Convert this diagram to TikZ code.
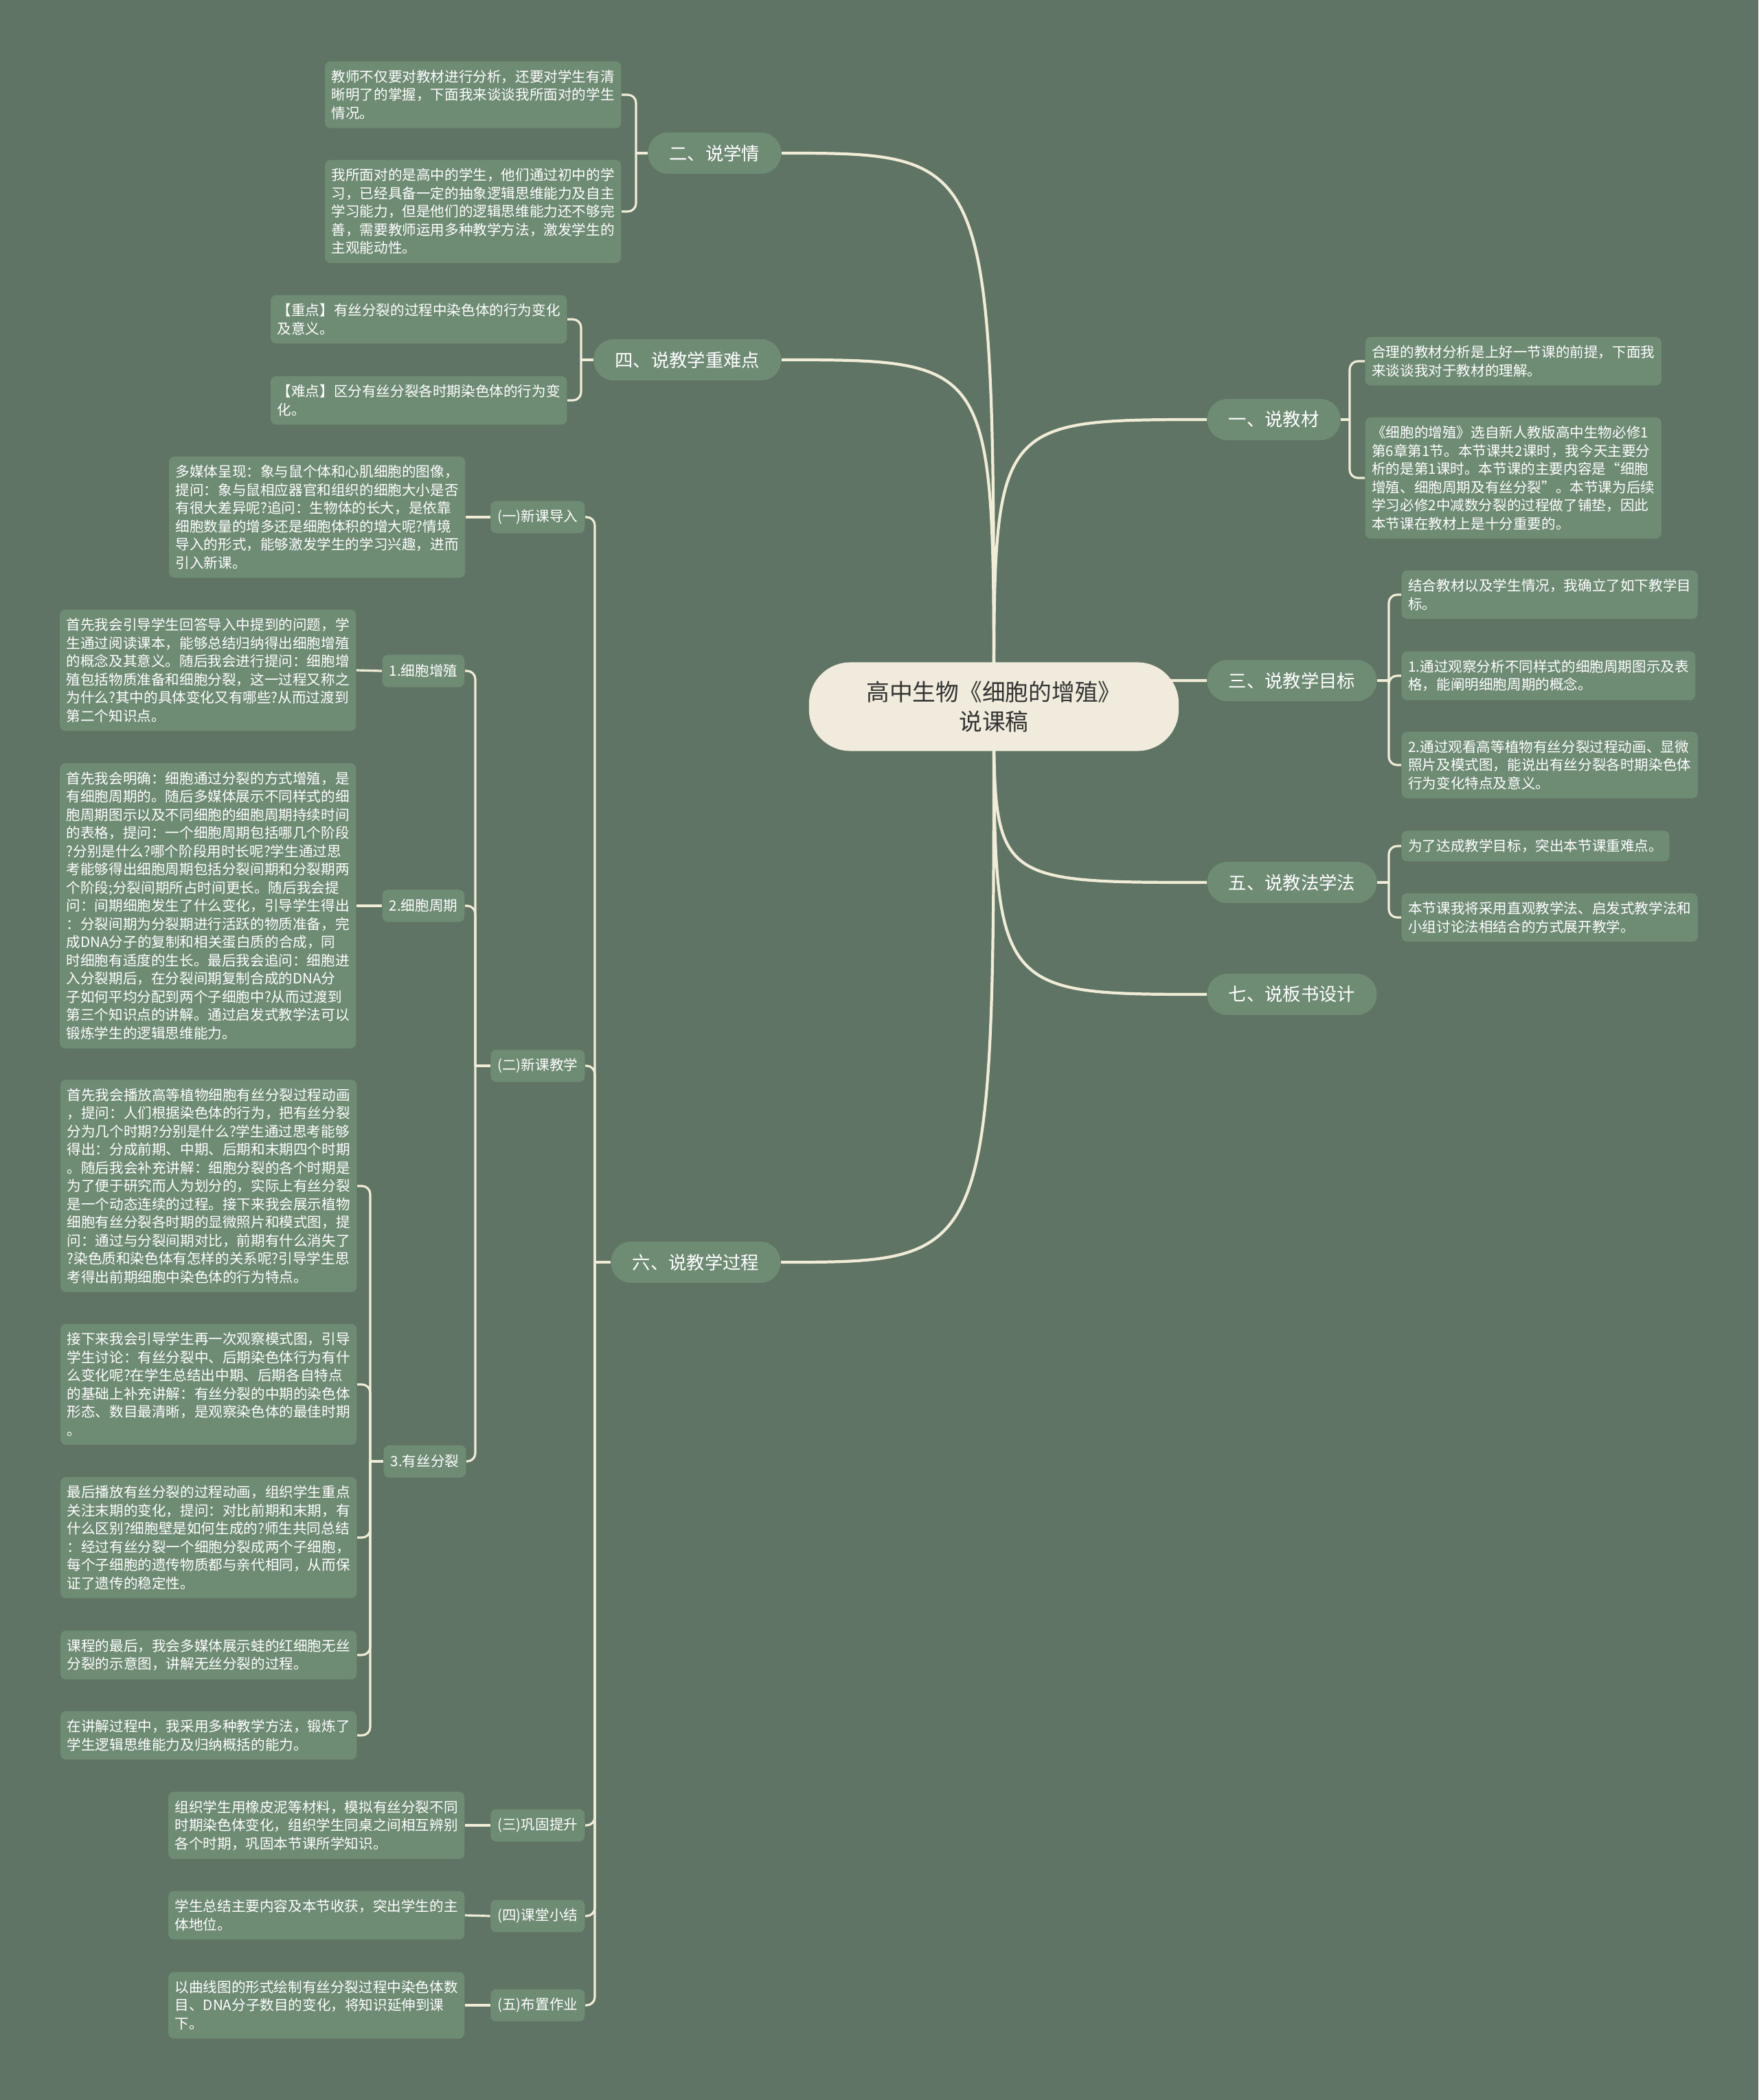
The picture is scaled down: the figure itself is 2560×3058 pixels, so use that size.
\documentclass[tikz,border=0pt]{standalone}
\usepackage{fontspec}
\setmainfont{Noto Sans CJK SC}
\definecolor{bgcol}{HTML}{5F7464}
\definecolor{boxcol}{HTML}{6E8B74}
\definecolor{linecol}{HTML}{F0ECD8}
\definecolor{rootcol}{HTML}{F0EBDC}
\tikzset{
  root/.style={fill=rootcol, text=black!80, rounded corners=0.6cm, minimum width=5.38cm,
    minimum height=1.29cm, align=center, font=\fontsize{9.6pt}{12.2pt}\selectfont},
  topic/.style={fill=boxcol, text=white, rounded corners=0.29cm, minimum height=0.6cm,
    inner xsep=0.31cm, font=\fontsize{7.5pt}{9pt}\selectfont},
  subtopic/.style={fill=boxcol, text=white, rounded corners=2.3pt, minimum height=0.47cm,
    inner xsep=0.1cm, font=\fontsize{5.86pt}{7.54pt}\selectfont},
  leaf/.style={fill=boxcol, text=white, rounded corners=2.3pt, align=left,
    inner xsep=0.095cm, inner ysep=0.125cm, font=\fontsize{5.86pt}{7.54pt}\selectfont},
  mainlink/.style={draw=linecol, line width=1.2pt},
  brace/.style={draw=linecol, line width=0.9pt, rounded corners=3.4pt}
}
\begin{document}
\begin{tikzpicture}[x=0.01cm,y=-0.01cm]
    %% Background
    \fill[bgcol] (0,0) rectangle (2560,3058);
    \coordinate (hub) at (1447,1029);

    %% Topics
    \node[topic,anchor=west] (jiaocai) at (1757,611) {一、说教材};
    \node[topic,anchor=east] (xueqing) at (1138,223) {二、说学情};
    \node[topic,anchor=west] (mubiao) at (1757,991) {三、说教学目标};
    \node[topic,anchor=east] (zhongnan) at (1138,524) {四、说教学重难点};
    \node[topic,anchor=west] (jiaofa) at (1757,1285) {五、说教法学法};
    \node[topic,anchor=east] (guocheng) at (1137,1838) {六、说教学过程};
    \node[topic,anchor=west] (banshu) at (1757,1448) {七、说板书设计};

    %% Main curves
    \foreach \t/\y in {jiaocai/611, mubiao/991, jiaofa/1285, banshu/1448}
        \draw[mainlink] (hub) .. controls (1447,\y) and (1447,\y) .. (\t.west);
    \foreach \t/\y in {xueqing/223, zhongnan/524, guocheng/1838}
        \draw[mainlink] (hub) .. controls (1447,\y) and (1447,\y) .. (\t.east);
    \node[root] (root) at (hub) {高中生物《细胞的增殖》\\说课稿};

    %% 一、说教材
    \node[leaf,anchor=west] (jc1) at (1987,526) {合理的教材分析是上好一节课的前提，下面我\\来谈谈我对于教材的理解。};
    \node[leaf,anchor=west] (jc2) at (1987,696) {《细胞的增殖》选自新人教版高中生物必修1\\第6章第1节。本节课共2课时，我今天主要分\\析的是第1课时。本节课的主要内容是“细胞\\增殖、细胞周期及有丝分裂”。本节课为后续\\学习必修2中减数分裂的过程做了铺垫，因此\\本节课在教材上是十分重要的。};
    \coordinate (jcj) at (1965,611);
    \draw[brace] (jiaocai.east) -- (jcj);
    \foreach \l in {jc1,jc2} \draw[brace] (jcj) |- (\l.west);

    %% 二、说学情
    \node[leaf,anchor=east] (xq1) at (905,138) {教师不仅要对教材进行分析，还要对学生有清\\晰明了的掌握，下面我来谈谈我所面对的学生\\情况。};
    \node[leaf,anchor=east] (xq2) at (905,308) {我所面对的是高中的学生，他们通过初中的学\\习，已经具备一定的抽象逻辑思维能力及自主\\学习能力，但是他们的逻辑思维能力还不够完\\善，需要教师运用多种教学方法，激发学生的\\主观能动性。};
    \coordinate (xqj) at (926,223);
    \draw[brace] (xueqing.west) -- (xqj);
    \foreach \l in {xq1,xq2} \draw[brace] (xqj) |- (\l.east);

    %% 三、说教学目标
    \node[leaf,anchor=west] (mb1) at (2040,866) {结合教材以及学生情况，我确立了如下教学目\\标。};
    \node[leaf,anchor=west] (mb2) at (2040,984) {1.通过观察分析不同样式的细胞周期图示及表\\格，能阐明细胞周期的概念。};
    \node[leaf,anchor=west] (mb3) at (2040,1114) {2.通过观看高等植物有丝分裂过程动画、显微\\照片及模式图，能说出有丝分裂各时期染色体\\行为变化特点及意义。};
    \coordinate (mbj) at (2022,991);
    \draw[brace] (mubiao.east) -- (mbj);
    \foreach \l in {mb1,mb2,mb3} \draw[brace] (mbj) |- (\l.west);

    %% 四、说教学重难点
    \node[leaf,anchor=east] (zn1) at (826,465) {【重点】有丝分裂的过程中染色体的行为变化\\及意义。};
    \node[leaf,anchor=east] (zn2) at (826,583) {【难点】区分有丝分裂各时期染色体的行为变\\化。};
    \coordinate (znj) at (846,524);
    \draw[brace] (zhongnan.west) -- (znj);
    \foreach \l in {zn1,zn2} \draw[brace] (znj) |- (\l.east);

    %% 五、说教法学法
    \node[leaf,anchor=west] (jf1) at (2040,1232) {为了达成教学目标，突出本节课重难点。};
    \node[leaf,anchor=west] (jf2) at (2040,1336) {本节课我将采用直观教学法、启发式教学法和\\小组讨论法相结合的方式展开教学。};
    \coordinate (jfj) at (2022,1285);
    \draw[brace] (jiaofa.east) -- (jfj);
    \foreach \l in {jf1,jf2} \draw[brace] (jfj) |- (\l.west);

    %% 六、说教学过程
    \node[subtopic,anchor=east] (daoru) at (852,753) {(一)新课导入};
    \node[subtopic,anchor=east] (xinke) at (852,1552) {(二)新课教学};
    \node[subtopic,anchor=east] (gonggu) at (852,2658) {(三)巩固提升};
    \node[subtopic,anchor=east] (xiaojie) at (852,2790) {(四)课堂小结};
    \node[subtopic,anchor=east] (zuoye) at (852,2920) {(五)布置作业};
    \coordinate (gcj) at (866,1838);
    \draw[brace] (guocheng.west) -- (gcj);
    \foreach \l in {daoru,xinke,gonggu,xiaojie,zuoye} \draw[brace] (gcj) |- (\l.east);

    \node[leaf,anchor=east] (daoru1) at (678,753) {多媒体呈现：象与鼠个体和心肌细胞的图像，\\提问：象与鼠相应器官和组织的细胞大小是否\\有很大差异呢?追问：生物体的长大，是依靠\\细胞数量的增多还是细胞体积的增大呢?情境\\导入的形式，能够激发学生的学习兴趣，进而\\引入新课。};
    \node[leaf,anchor=east] (gonggu1) at (677,2658) {组织学生用橡皮泥等材料，模拟有丝分裂不同\\时期染色体变化，组织学生同桌之间相互辨别\\各个时期，巩固本节课所学知识。};
    \node[leaf,anchor=east] (xiaojie1) at (677,2789) {学生总结主要内容及本节收获，突出学生的主\\体地位。};
    \node[leaf,anchor=east] (zuoye1) at (677,2920) {以曲线图的形式绘制有丝分裂过程中染色体数\\目、DNA分子数目的变化，将知识延伸到课\\下。};
    \foreach \s in {daoru,gonggu,xiaojie,zuoye} \draw[brace] (\s.west) -- (\s1.east);

    %% (二)新课教学
    \node[subtopic,anchor=east] (zengzhi) at (677,977) {1.细胞增殖};
    \node[subtopic,anchor=east] (zhouqi) at (677,1319) {2.细胞周期};
    \node[subtopic,anchor=east] (fenlie) at (679,2128) {3.有丝分裂};
    \coordinate (xkj) at (692,1552);
    \draw[brace] (xinke.west) -- (xkj);
    \foreach \l in {zengzhi,zhouqi,fenlie} \draw[brace] (xkj) |- (\l.east);

    \node[leaf,anchor=east] (zengzhi1) at (519,976) {首先我会引导学生回答导入中提到的问题，学\\生通过阅读课本，能够总结归纳得出细胞增殖\\的概念及其意义。随后我会进行提问：细胞增\\殖包括物质准备和细胞分裂，这一过程又称之\\为什么?其中的具体变化又有哪些?从而过渡到\\第二个知识点。};
    \node[leaf,anchor=east] (zhouqi1) at (519,1319) {首先我会明确：细胞通过分裂的方式增殖，是\\有细胞周期的。随后多媒体展示不同样式的细\\胞周期图示以及不同细胞的细胞周期持续时间\\的表格，提问：一个细胞周期包括哪几个阶段\\?分别是什么?哪个阶段用时长呢?学生通过思\\考能够得出细胞周期包括分裂间期和分裂期两\\个阶段;分裂间期所占时间更长。随后我会提\\问：间期细胞发生了什么变化，引导学生得出\\：分裂间期为分裂期进行活跃的物质准备，完\\成DNA分子的复制和相关蛋白质的合成，同\\时细胞有适度的生长。最后我会追问：细胞进\\入分裂期后，在分裂间期复制合成的DNA分\\子如何平均分配到两个子细胞中?从而过渡到\\第三个知识点的讲解。通过启发式教学法可以\\锻炼学生的逻辑思维能力。};
    \foreach \s in {zengzhi,zhouqi} \draw[brace] (\s.west) -- (\s1.east);

    %% 3.有丝分裂
    \node[leaf,anchor=east] (fenlie1) at (520,1727) {首先我会播放高等植物细胞有丝分裂过程动画\\，提问：人们根据染色体的行为，把有丝分裂\\分为几个时期?分别是什么?学生通过思考能够\\得出：分成前期、中期、后期和末期四个时期\\。随后我会补充讲解：细胞分裂的各个时期是\\为了便于研究而人为划分的，实际上有丝分裂\\是一个动态连续的过程。接下来我会展示植物\\细胞有丝分裂各时期的显微照片和模式图，提\\问：通过与分裂间期对比，前期有什么消失了\\?染色质和染色体有怎样的关系呢?引导学生思\\考得出前期细胞中染色体的行为特点。};
    \node[leaf,anchor=east] (fenlie2) at (520,2016) {接下来我会引导学生再一次观察模式图，引导\\学生讨论：有丝分裂中、后期染色体行为有什\\么变化呢?在学生总结出中期、后期各自特点\\的基础上补充讲解：有丝分裂的中期的染色体\\形态、数目最清晰，是观察染色体的最佳时期\\。};
    \node[leaf,anchor=east] (fenlie3) at (520,2239) {最后播放有丝分裂的过程动画，组织学生重点\\关注末期的变化，提问：对比前期和末期，有\\什么区别?细胞壁是如何生成的?师生共同总结\\：经过有丝分裂一个细胞分裂成两个子细胞，\\每个子细胞的遗传物质都与亲代相同，从而保\\证了遗传的稳定性。};
    \node[leaf,anchor=east] (fenlie4) at (520,2410) {课程的最后，我会多媒体展示蛙的红细胞无丝\\分裂的示意图，讲解无丝分裂的过程。};
    \node[leaf,anchor=east] (fenlie5) at (520,2527) {在讲解过程中，我采用多种教学方法，锻炼了\\学生逻辑思维能力及归纳概括的能力。};
    \coordinate (flj) at (539,2128);
    \draw[brace] (fenlie.west) -- (flj);
    \foreach \i in {1,...,5} \draw[brace] (flj) |- (fenlie\i.east);
\end{tikzpicture}
\end{document}
